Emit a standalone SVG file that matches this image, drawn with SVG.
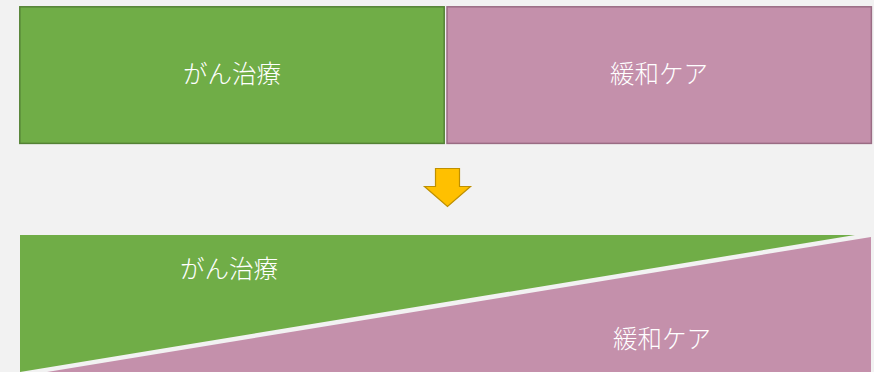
<svg xmlns="http://www.w3.org/2000/svg" width="874" height="372" viewBox="0 0 874 372">
  <style>
    .lbl { font-family: "Noto Sans CJK JP", "Noto Sans", sans-serif; font-size: 24.5px; font-weight: 300; fill: #FFFFFF; text-anchor: middle; dominant-baseline: central; }
    .green { fill: #70AD47; }
    .pink { fill: #C490AB; }
  </style>
  <rect x="0" y="0" width="874" height="372" fill="#F2F2F2"/>
  <g id="top-cancer">
    <rect class="green" x="19.8" y="6.8" width="424.4" height="136.6" stroke="#548235" stroke-width="1.5"/>
    <text class="lbl" x="232" y="72.5">がん治療</text>
  </g>
  <g id="top-palliative">
    <rect class="pink" x="447" y="6.8" width="424.4" height="136.6" stroke="#9A6C84" stroke-width="1.5"/>
    <text class="lbl" x="659" y="72">緩和ケア</text>
  </g>
  <g id="connectors">
    <polygon points="435.5,168.5 459.5,168.5 459.5,186.5 470.5,186.5 447.5,206.5 424.5,186.5 435.5,186.5" fill="#FFC000" stroke="#BF9000" stroke-width="1.2"/>
  </g>
  <g id="bottom-cancer">
    <polygon class="green" points="20,235 855,235 20,372"/>
    <text class="lbl" x="229" y="267.5">がん治療</text>
  </g>
  <g id="bottom-palliative">
    <polygon class="pink" points="871,237 871,372 47,372"/>
    <text class="lbl" x="662" y="337.5">緩和ケア</text>
  </g>
</svg>
